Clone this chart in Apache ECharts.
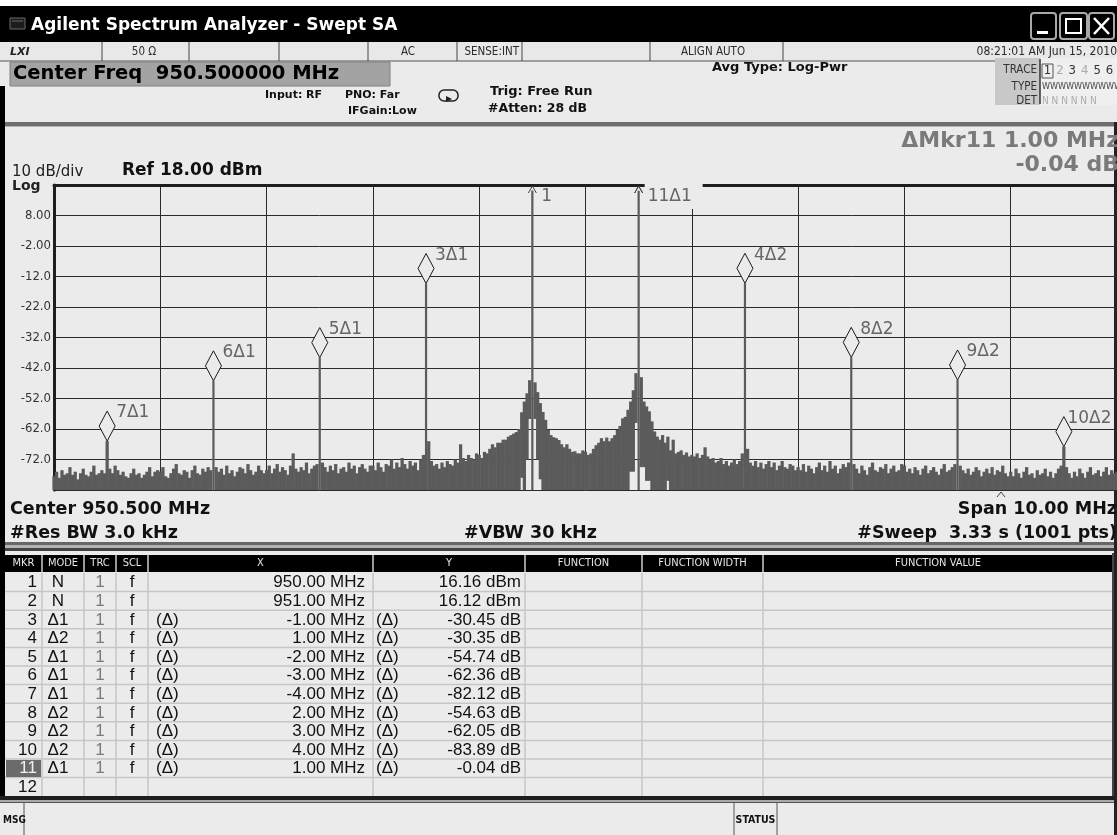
<!DOCTYPE html>
<html><head><meta charset="utf-8">
<script src="https://cdn.jsdelivr.net/npm/echarts@6/dist/echarts.min.js"></script>
<style>html,body{margin:0;padding:0;background:#ebebeb;overflow:hidden}#c{width:1117px;height:835px}</style>
</head><body><div id="c"></div>
<script>
// ---------------- data ----------------
const startFreqMHz = 945.5;
const spanMHz = 10;
const sweepStepMHz = 0.025;
const refLevelDbm = 18;
const bottomLevelDbm = -82;
const dbPerDiv = 10;
const yTickValues = [8, -2, -12, -22, -32, -42, -52, -62, -72];
const yTickLabels = ['8.00', '-2.00', '-12.0', '-22.0', '-32.0', '-42.0', '-52.0', '-62.0', '-72.0'];

// trace (dBm), one value per sweep bin starting at 945.5 MHz, 0.025 MHz apart
const traceDbm = [
 -77.5,-76.0,-78.0,-75.5,-77.0,-76.5,-74.5,-77.0,-76.0,-78.5,-76.5,-75.0,-77.0,-77.5,-76.0,-74.0,-77.0,-76.5,-75.5,-76.5,
 -65.96,-75.0,-76.5,-74.0,-75.5,-77.0,-76.0,-77.5,-78.0,-76.5,-75.0,-77.0,-76.5,-78.0,-77.0,-76.0,-74.5,-77.5,-76.0,-75.5,
 -76.0,-74.5,-77.5,-78.0,-76.5,-75.0,-73.5,-76.5,-77.0,-75.5,-76.0,-78.0,-75.5,-74.0,-76.5,-77.0,-75.0,-76.0,-74.5,-75.5,
 -46.20,-74.5,-76.0,-75.0,-77.0,-74.0,-76.5,-75.5,-77.5,-76.0,-74.5,-75.0,-76.5,-73.5,-75.5,-77.0,-76.0,-74.0,-75.5,-76.5,
 -75.5,-74.0,-76.5,-75.0,-73.5,-76.0,-74.5,-75.5,-77.0,-74.0,-70.0,-75.0,-76.0,-74.5,-75.5,-73.0,-76.5,-75.0,-74.0,-73.5,
 -38.58,-73.0,-74.5,-76.0,-74.0,-75.5,-73.5,-76.5,-75.0,-74.5,-76.0,-73.0,-75.0,-74.0,-76.5,-74.5,-73.5,-75.0,-76.0,-74.0,
 -74.0,-75.5,-73.0,-74.5,-76.0,-73.5,-74.0,-72.0,-75.0,-73.0,-74.5,-71.5,-73.5,-75.0,-72.5,-74.0,-73.0,-75.5,-72.0,-70.5,
 -14.29,-66.0,-72.5,-74.0,-73.5,-75.0,-73.0,-74.5,-72.5,-73.5,-74.0,-72.0,-73.0,-67.0,-71.5,-72.5,-70.5,-71.5,-72.0,-70.0,
 -70.5,-71.5,-69.5,-70.0,-68.5,-67.0,-68.0,-66.5,-66.5,-65.5,-65.5,-64.5,-64.0,-63.5,-63.0,-62.0,-56.5,-53.0,-50.3,-46.0,
 16.16,-46.7,-49.9,-53.5,-56.4,-59.0,-62.3,-64.0,-64.7,-65.0,-65.6,-67.0,-68.0,-67.0,-68.5,-69.5,-69.3,-70.0,-70.0,-69.0,
 -69.5,-70.5,-70.0,-68.5,-67.3,-66.5,-65.0,-66.0,-64.8,-66.0,-65.0,-64.0,-62.3,-61.0,-58.5,-58.0,-55.7,-53.0,-49.3,-43.7,
 16.12,-45.0,-53.0,-54.6,-56.2,-59.5,-62.8,-64.5,-65.5,-64.0,-66.5,-64.5,-69.0,-65.5,-70.0,-69.5,-69.0,-70.5,-69.7,-71.0,
 -70.5,-71.0,-70.0,-71.5,-70.5,-68.0,-71.0,-72.0,-71.5,-73.0,-72.5,-71.5,-73.5,-72.5,-74.0,-73.0,-72.0,-73.5,-72.5,-70.0,
 -14.23,-68.5,-73.0,-74.0,-72.5,-74.5,-73.0,-75.0,-73.5,-72.5,-74.5,-73.0,-75.5,-74.0,-72.5,-74.5,-75.0,-73.5,-74.0,-75.5,
 -74.5,-75.5,-73.5,-76.0,-74.0,-75.0,-76.5,-74.5,-73.0,-75.5,-74.0,-76.0,-72.5,-75.0,-74.0,-76.5,-75.0,-73.5,-74.5,-73.0,
 -38.51,-73.5,-75.0,-76.5,-74.0,-75.5,-77.0,-74.5,-73.0,-75.5,-76.0,-74.5,-75.0,-73.5,-76.5,-75.0,-74.0,-76.0,-75.5,-73.5,
 -74.0,-76.0,-75.0,-76.5,-74.5,-75.5,-77.0,-75.0,-74.0,-76.5,-75.5,-74.5,-76.0,-77.0,-75.0,-73.5,-76.0,-75.5,-74.5,-73.5,
 -45.93,-74.0,-75.5,-76.5,-75.0,-77.0,-76.0,-74.5,-75.5,-77.5,-76.0,-75.0,-76.5,-74.5,-77.0,-75.5,-76.0,-74.0,-76.5,-77.5,
 -76.0,-77.5,-75.0,-76.5,-78.0,-76.0,-74.5,-77.0,-76.5,-78.0,-75.5,-77.0,-76.5,-75.0,-77.5,-76.0,-78.0,-76.5,-75.0,-74.0,
 -67.77,-74.5,-76.5,-78.0,-76.0,-77.5,-75.0,-76.5,-78.0,-76.0,-74.5,-77.0,-76.5,-75.5,-77.5,-76.0,-74.5,-77.0,-75.5,-76.5,
 -76.0
];
// bins whose minimum does not reach the screen bottom (light gaps under the carriers)
const traceLowIdx = [176, 178, 179, 181, 182, 183, 217, 218, 219, 221, 222, 223, 224, 231];
const traceLowDbm = [-78, -72, -58.7, -58.7, -72, -78.5, -76, -76, -60, -74.5, -74.5, -79, -79, -79];

// marker table
const mkrNumbers = [1, 2, 3, 4, 5, 6, 7, 8, 9, 10, 11, 12];
const mkrModes = ['N', 'N', 'Δ1', 'Δ2', 'Δ1', 'Δ1', 'Δ1', 'Δ2', 'Δ2', 'Δ2', 'Δ1'];
const mkrTrc = ['1', '1', '1', '1', '1', '1', '1', '1', '1', '1', '1'];
const mkrScl = ['f', 'f', 'f', 'f', 'f', 'f', 'f', 'f', 'f', 'f', 'f'];
const mkrXMHz = [950.00, 951.00, -1.00, 1.00, -2.00, -3.00, -4.00, 2.00, 3.00, 4.00, 1.00];
const mkrYdB = [16.16, 16.12, -30.45, -30.35, -54.74, -62.36, -82.12, -54.63, -62.05, -83.89, -0.04];
const activeMarker = 11;

// ---------------- layout ----------------
const BG = '#ebebeb';
const TRACE = '#5b5b5b';
const gridL = 54, gridT = 185, gridW = 1063, gridH = 305;
const bold = s => `bold ${s}px "DejaVu Sans", sans-serif`;
const reg = s => `${s}px "DejaVu Sans", sans-serif`;
const cond = s => `${s}px "DejaVu Sans Condensed", "DejaVu Sans", sans-serif`;
const condB = s => `bold ${s}px "DejaVu Sans Condensed", "DejaVu Sans", sans-serif`;
const arial = s => `${s}px "Liberation Sans", Arial, sans-serif`;

// trace series data
const lowMap = {};
traceLowIdx.forEach((k, j) => lowMap[k] = traceLowDbm[j]);
const traceData = traceDbm.map((v, i) => {
  const prev = i > 0 ? traceDbm[i - 1] : v, next = i < traceDbm.length - 1 ? traceDbm[i + 1] : v;
  const spur = (v - prev > 12 && v - next > 12) ? 1 : 0;
  return [i * sweepStepMHz, v, lowMap[i] !== undefined ? lowMap[i] : bottomLevelDbm, spur];
});

// absolute marker positions
const absF = [], absA = [];
mkrModes.forEach((m, k) => {
  if (m === 'N') { absF[k] = mkrXMHz[k]; absA[k] = mkrYdB[k]; }
  else { const r = parseInt(m.slice(1), 10) - 1; absF[k] = absF[r] + mkrXMHz[k]; absA[k] = absA[r] + mkrYdB[k]; }
});
const markerLabels = mkrModes.map((m, k) => m === 'N' ? String(mkrNumbers[k]) : String(mkrNumbers[k]) + m);
const markerData = mkrModes.map((m, k) => [absF[k] - startFreqMHz, absA[k], k]);

function renderTrace(params, api) {
  const x = api.value(0), hi = api.value(1), lo = api.value(2), spur = api.value(3);
  const a = api.coord([x, hi]), b = api.coord([x, lo]);
  const bw = api.size([sweepStepMHz, 0])[0];
  let x0 = a[0] - bw / 2 - 0.3, w = bw + 0.6;
  if (spur) { x0 = a[0] - 1.1; w = 2.2; }
  return { type: 'rect', shape: { x: x0, y: a[1], width: w, height: b[1] - a[1] }, style: { fill: TRACE } };
}

function renderMarker(params, api) {
  const k = api.value(2);
  const p = api.coord([api.value(0), api.value(1)]);
  const cs = params.coordSys;
  const label = markerLabels[k];
  const children = [];
  if (api.value(1) > refLevelDbm - 8) {
    if (mkrNumbers[k] === activeMarker) {
      children.push({ type: 'rect', shape: { x: p[0] + 6, y: cs.y - 3, width: 58, height: 27 }, style: { fill: BG } });
    }
    children.push({ type: 'polyline', shape: { points: [[p[0] - 4, cs.y + 8], [p[0], cs.y + 1], [p[0] + 4, cs.y + 8]] }, style: { stroke: '#444', lineWidth: 1, fill: null } });
    children.push({ type: 'text', x: p[0] + 9, y: p[1] + 6, style: { text: label, font: reg(17), fill: '#666', align: 'left', verticalAlign: 'middle' } });
  } else {
    const dx = 8, dh = 30;
    children.push({ type: 'polygon', shape: { points: [[p[0], p[1]], [p[0] + dx, p[1] - dh / 2], [p[0], p[1] - dh], [p[0] - dx, p[1] - dh / 2]] }, style: { fill: BG, stroke: '#1a1a1a', lineWidth: 1 } });
    const w = label.length * 10.9;
    let lx = p[0] + 9;
    const right = cs.x + cs.width - 6;
    if (lx + w > right) lx = right - w;
    children.push({ type: 'text', x: lx, y: p[1] - 28, style: { text: label, font: reg(17), fill: '#666', align: 'left', verticalAlign: 'middle' } });
  }
  return { type: 'group', children };
}

// ---------------- chrome ----------------
const G = [];
function R(x, y, w, h, fill, o) { o = o || {}; G.push({ type: 'rect', silent: true, z: o.z || 0, shape: { x, y, width: w, height: h, r: o.r || 0 }, style: { fill: fill || null, stroke: o.stroke || null, lineWidth: o.lw || 0 } }); }
function L(x1, y1, x2, y2, stroke, lw) { G.push({ type: 'line', silent: true, shape: { x1, y1, x2, y2 }, style: { stroke, lineWidth: lw || 1 } }); }
function T(x, y, text, font, fill, align, va) { G.push({ type: 'text', silent: true, x, y, style: { text, font, fill, align: align || 'left', verticalAlign: va || 'middle', textAlign: align || 'left', textVerticalAlign: va || 'middle' } }); }

// top white strip + title bar
R(0, 0, 1117, 6, '#ffffff');
R(0, 6, 1117, 36, '#000000');
R(10, 18, 15, 11, '#1c1c1c', { stroke: '#6a6a6a', lw: 1 });
L(12, 21, 23, 21, '#6a6a6a', 1);
T(31, 26, 'Agilent Spectrum Analyzer - Swept SA', bold(17), '#ffffff');
// window buttons
R(1031, 13, 25, 26, '#000', { stroke: '#a8a8a8', lw: 2, r: 3 });
R(1060, 13, 27, 26, '#000', { stroke: '#a8a8a8', lw: 2, r: 3 });
R(1089, 13, 25, 26, '#000', { stroke: '#a8a8a8', lw: 2, r: 3 });
R(1037, 31, 11, 3, '#ffffff');
R(1066, 19, 15, 14, null, { stroke: '#ffffff', lw: 2 });
L(1094, 18, 1109, 34, '#ffffff', 2.5);
L(1109, 18, 1094, 34, '#ffffff', 2.5);

// status row
R(0, 42, 1117, 19, '#e8e8e8');
L(0, 61, 1117, 61, '#555', 1);
[102, 189, 279, 368, 457, 522, 650, 783].forEach(x => L(x, 42, x, 61, '#444', 1));
T(10, 52, 'LXI', 'italic bold 11px "DejaVu Sans", sans-serif', '#222');
T(144, 52, '50 Ω', cond(11.5), '#2a2a2a', 'center');
T(408, 52, 'AC', cond(11.5), '#2a2a2a', 'center');
T(519, 52, 'SENSE:INT', cond(11.5), '#2a2a2a', 'right');
T(713, 52, 'ALIGN AUTO', cond(11.5), '#2a2a2a', 'center');
T(1117, 52, '08:21:01 AM Jun 15, 2010', cond(12), '#2a2a2a', 'right');

// header area
R(10, 62, 380, 24, '#a3a3a3', { stroke: '#808080', lw: 1 });
T(13, 74, 'Center Freq  950.500000 MHz', bold(19.5), '#000');
T(265, 95, 'Input: RF', bold(11), '#111');
T(345, 95, 'PNO: Far', bold(11), '#111');
T(348, 111, 'IFGain:Low', bold(11), '#111');
R(439, 90, 19, 11, null, { stroke: '#222', lw: 1.5, r: 5 });
G.push({ type: 'polygon', silent: true, shape: { points: [[446, 96], [452, 99], [446, 102]] }, style: { fill: '#222' } });
T(490, 92, 'Trig: Free Run', bold(13), '#111');
T(488, 109, '#Atten: 28 dB', bold(12.5), '#111');
T(712, 68, 'Avg Type: Log-Pwr', bold(13), '#111');
// trace info box
R(995, 58, 45, 47, '#c8c8c8');
R(1040, 58, 77, 47, '#efefef');
L(1040, 59, 1040, 104, '#333', 1.5);
T(1037, 70, 'TRACE', cond(11.5), '#333', 'right');
T(1037, 87, 'TYPE', cond(11.5), '#333', 'right');
T(1037, 101, 'DET', cond(11.5), '#333', 'right');
R(1042, 64, 11, 14, null, { stroke: '#555', lw: 1 });
const traceNums = ['1', '2', '3', '4', '5', '6'];
const traceNumColors = ['#333', '#aaa', '#333', '#aaa', '#333', '#333'];
traceNums.forEach((s, j) => T(1047.5 + j * 12.4, 71, s, cond(13), traceNumColors[j], 'center'));
T(1042, 87, 'WWWWWWWWWW', cond(9), '#444');
T(1042, 101, 'N N N N N N', cond(10), '#aaa');

// panel separators and borders
R(5, 122, 1112, 4, '#6e6e6e');
R(5, 126, 1112, 1, '#b5b5b5');
R(0, 86, 5, 717, '#000');
R(1114, 122, 3, 713, '#222');

// plot panel texts
T(1119, 141, 'ΔMkr11 1.00 MHz', bold(22), '#7a7a7a', 'right');
T(1119, 165, '-0.04 dB', bold(22), '#7a7a7a', 'right');
T(12, 172, '10 dB/div', reg(15), '#222');
T(12, 186, 'Log', bold(14), '#222');
T(122, 171, 'Ref 18.00 dBm', bold(17), '#111');
G.push({ type: 'polyline', silent: true, shape: { points: [[997, 497], [1001, 492], [1005, 497]] }, style: { stroke: '#444', lineWidth: 1, fill: null } });
T(10, 509, 'Center 950.500 MHz', bold(17.5), '#111');
T(10, 533, '#Res BW 3.0 kHz', bold(17.5), '#111');
T(464, 533, '#VBW 30 kHz', bold(17.5), '#111');
T(1117, 509, 'Span 10.00 MHz', bold(17.5), '#111', 'right');
T(1117, 533, '#Sweep  3.33 s (1001 pts)', bold(17.5), '#111', 'right');

// separator between plot and table
R(5, 542, 1109, 3, '#666');
R(5, 545, 1109, 3, '#b3b3b3');
R(5, 548, 1109, 3, '#444');

// table
const colX = [5, 42, 84, 116, 148, 373, 525, 642, 763, 1113];
const headers = ['MKR', 'MODE', 'TRC', 'SCL', 'X', 'Y', 'FUNCTION', 'FUNCTION WIDTH', 'FUNCTION VALUE'];
R(5, 555, 1108, 17, '#000');
colX.slice(1, -1).forEach(x => L(x, 555, x, 572, '#9a9a9a', 2));
headers.forEach((h, j) => T((colX[j] + colX[j + 1]) / 2, 563.5, h, cond(11), '#e6e6e6', 'center'));
const rowTop = 573, rowH = 18.6;
for (let r = 1; r < 12; r++) L(5, rowTop + r * rowH, 1113, rowTop + r * rowH, '#c6c6c6', 1.5);
colX.slice(1, -1).forEach(x => L(x, rowTop, x, rowTop + 12 * rowH, '#c6c6c6', 1.5));
R(1112, 553, 2, 250, '#444');
mkrNumbers.forEach((n, k) => {
  const cy = rowTop + k * rowH + rowH / 2 + 0.5;
  if (n === activeMarker) { R(6, rowTop + k * rowH + 1, colX[1] - 7, rowH - 1.5, '#6b6b6b'); }
  T(37, cy, String(n), arial(17), n === activeMarker ? '#f0f0f0' : '#111', 'right');
  if (k >= mkrModes.length) return;
  const m = mkrModes[k];
  T(58, cy, m, arial(17), '#111', 'center');
  T(100, cy, mkrTrc[k], arial(17), '#7a7a7a', 'center');
  T(132, cy, mkrScl[k], arial(17), '#111', 'center');
  const isD = m !== 'N';
  if (isD) { T(156, cy, '(Δ)', arial(17), '#111'); T(376, cy, '(Δ)', arial(17), '#111'); }
  T(365, cy, mkrXMHz[k].toFixed(2) + ' MHz', arial(17), '#111', 'right');
  T(521, cy, mkrYdB[k].toFixed(2) + (isD ? ' dB' : ' dBm'), arial(17), '#111', 'right');
});
R(0, 796, 1114, 4, '#1e1e1e');
R(0, 800, 1114, 2, '#aaaaaa');
R(0, 802, 1114, 1, '#555');
L(24, 803, 24, 835, '#555', 1);
T(3, 820, 'MSG', condB(10), '#111');
L(734, 803, 734, 835, '#555', 1);
L(777, 803, 777, 835, '#555', 1);
T(755.5, 820, 'STATUS', condB(10.5), '#111', 'center');

// ---------------- chart ----------------
const chart = echarts.init(document.getElementById('c'), null, { renderer: 'canvas', width: 1117, height: 835 });
chart.setOption({
  animation: false,
  backgroundColor: BG,
  grid: { left: gridL, top: gridT, width: gridW, height: gridH, containLabel: false },
  xAxis: {
    type: 'value', min: 0, max: spanMHz, interval: 1, position: 'top',
    axisLine: { show: true, onZero: false, lineStyle: { color: '#1e1e1e', width: 3 } },
    axisTick: { show: false }, axisLabel: { show: false },
    splitLine: { show: true, lineStyle: { color: '#2a2a2a', width: 1 } }
  },
  yAxis: {
    type: 'value', min: bottomLevelDbm, max: refLevelDbm, interval: dbPerDiv,
    axisLine: { show: true, onZero: false, lineStyle: { color: '#1e1e1e', width: 3 } },
    axisTick: { show: false },
    axisLabel: {
      margin: 3, color: '#333', fontFamily: 'DejaVu Sans Condensed', fontSize: 13,
      formatter: v => { const j = yTickValues.indexOf(Math.round(v)); return j >= 0 ? yTickLabels[j] : ''; }
    },
    splitLine: { show: true, lineStyle: { color: '#2a2a2a', width: 1 } }
  },
  graphic: { elements: G },
  series: [
    { type: 'custom', name: 'trace', renderItem: renderTrace, data: traceData, encode: { x: 0, y: 1 }, z: 2, silent: true },
    { type: 'custom', name: 'markers', renderItem: renderMarker, data: markerData, encode: { x: 0, y: 1 }, z: 3, silent: true, clip: false }
  ]
});
</script></body></html>
